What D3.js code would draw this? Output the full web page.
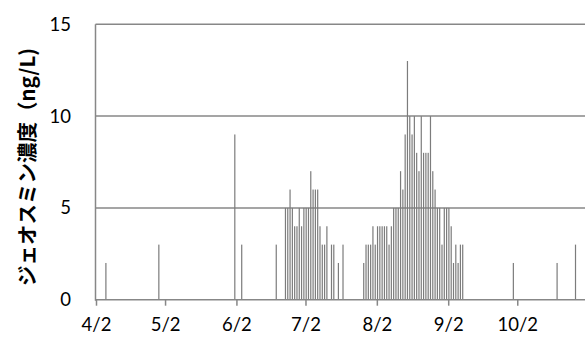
<!DOCTYPE html>
<html>
<head>
<meta charset="utf-8">
<script src="https://cdn.jsdelivr.net/npm/d3@7"></script>
<style>
  body { margin: 0; background: #fff; }
  svg { display: block; }
</style>
</head>
<body>
<div id="chart"></div>
<script>
// sampling days (month/day) and geosmin concentration in ng/L
const sampleDates = [
  '4/6', '4/29', '6/1', '6/4', '6/19',
  '6/23', '6/24', '6/25', '6/26', '6/27', '6/28', '6/29', '6/30',
  '7/1', '7/2', '7/3', '7/4', '7/5', '7/6', '7/7', '7/8', '7/9', '7/10', '7/11',
  '7/13', '7/14', '7/16', '7/18',
  '7/27', '7/28', '7/29', '7/30', '7/31',
  '8/1', '8/2', '8/3', '8/4', '8/5', '8/6', '8/7', '8/8', '8/9', '8/10',
  '8/11', '8/12', '8/13', '8/14', '8/15', '8/16', '8/17', '8/18', '8/19', '8/20',
  '8/21', '8/22', '8/23', '8/24', '8/25', '8/26', '8/27', '8/28', '8/29', '8/30', '8/31',
  '9/1', '9/2', '9/3', '9/4', '9/5', '9/6', '9/7', '9/8',
  '9/30', '10/19', '10/27'
];
const geosmin = [
  2, 3, 9, 3, 3,
  5, 5, 6, 5, 4, 4, 5, 4,
  5, 5, 5, 7, 6, 6, 6, 4, 3, 3, 4,
  3, 3, 2, 3,
  2, 3, 3, 3, 4,
  3, 4, 4, 4, 4, 4, 3, 4, 5, 5,
  5, 7, 6, 9, 13, 10, 9, 10, 8, 7,
  10, 8, 8, 8, 10, 7, 6, 5, 5, 3, 5,
  5, 5, 4, 2, 3, 2, 3, 3,
  2, 2, 3
];
const xTickLabels = ['4/2', '5/2', '6/2', '7/2', '8/2', '9/2', '10/2'];
const yTicks = [0, 5, 10, 15];
const yTitle = 'ジェオスミン濃度（ng/L)';

const YEAR = 2013;
const parseMD = s => {
  const [m, d] = s.split('/').map(Number);
  return new Date(Date.UTC(YEAR, m - 1, d));
};

const width = 585, height = 343;
const margin = { left: 96, top: 24.3, bottom: 299.7 };
const dayW = 2.302;

const svg = d3.select('#chart').append('svg')
  .attr('width', width)
  .attr('height', height);

const start = parseMD('4/2');
const end = parseMD('11/1');
const x = d3.scaleUtc()
  .domain([start, end])
  .range([margin.left, margin.left + d3.utcDay.count(start, end) * dayW]);
const y = d3.scaleLinear().domain([0, 15]).range([margin.bottom, margin.top]);

const gridColor = '#878787';

// horizontal gridlines (incl. top border)
svg.append('g')
  .selectAll('line')
  .data(yTicks.filter(d => d > 0))
  .enter()
  .append('line')
  .attr('x1', margin.left - 0.5)
  .attr('x2', width)
  .attr('y1', d => y(d))
  .attr('y2', d => y(d))
  .attr('stroke', gridColor)
  .attr('stroke-width', 1.5);

// bars
const data = sampleDates.map((d, i) => ({ date: parseMD(d), value: geosmin[i] }));
svg.append('g')
  .selectAll('rect')
  .data(data)
  .enter()
  .append('rect')
  .attr('x', d => x(d.date) + dayW * 0.3 - 0.6)
  .attr('width', 1.2)
  .attr('y', d => y(d.value))
  .attr('height', d => y(0) - y(d.value))
  .attr('fill', '#7c7c7c');

// y axis line
svg.append('line')
  .attr('x1', margin.left - 0.5).attr('x2', margin.left - 0.5)
  .attr('y1', margin.top).attr('y2', margin.bottom + 1)
  .attr('stroke', gridColor)
  .attr('stroke-width', 1.5);

// x axis
const xAxis = d3.axisBottom(x)
  .tickValues(xTickLabels.map(parseMD))
  .tickSize(6)
  .tickSizeOuter(0)
  .tickFormat((d, i) => xTickLabels[i]);

svg.append('g')
  .attr('transform', 'translate(0,' + margin.bottom + ')')
  .call(xAxis)
  .call(g => g.select('.domain')
    .attr('stroke', gridColor)
    .attr('stroke-width', 1.5)
    .attr('d', 'M' + (margin.left - 0.5) + ',0H' + width))
  .call(g => g.selectAll('.tick line')
    .attr('stroke', gridColor)
    .attr('stroke-width', 1.5))
  .call(g => g.selectAll('.tick text')
    .attr('y', 18)
    .attr('dy', '0.71em')
    .attr('fill', '#000')
    .style('font-family', 'Lato, "Open Sans", sans-serif')
    .style('font-size', '18.5px'));

// y tick labels
svg.append('g')
  .selectAll('text')
  .data(yTicks)
  .enter()
  .append('text')
  .attr('x', 71)
  .attr('y', d => y(d))
  .attr('dy', '0.35em')
  .attr('text-anchor', 'end')
  .style('font-family', 'Lato, "Open Sans", sans-serif')
  .style('font-size', '18.5px')
  .text(d => d);

// y axis title
svg.append('text')
  .attr('transform', 'translate(35,' + 167 + ') rotate(-90)')
  .attr('text-anchor', 'middle')
  .style('font-family', '"Noto Sans CJK JP", sans-serif')
  .style('font-weight', 'bold')
  .style('font-size', '20.5px')
  .text(yTitle);
</script>
</body>
</html>
